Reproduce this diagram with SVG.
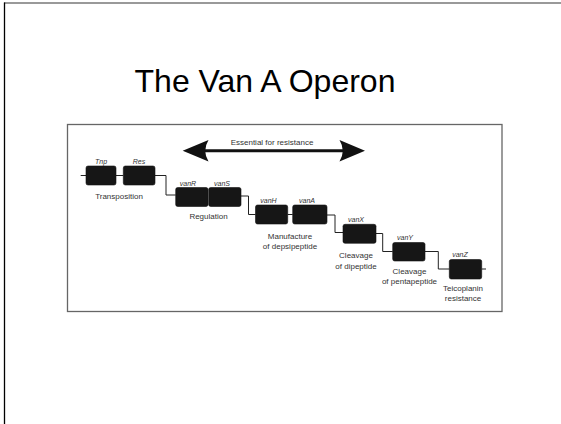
<svg xmlns="http://www.w3.org/2000/svg" width="561" height="424" viewBox="0 0 561 424">
<style>
.gene{fill:#161616;stroke:#111;stroke-width:0.6}
.gl{font-family:"Liberation Sans",Arial,sans-serif;font-size:7px;font-style:italic;fill:#333;text-anchor:middle}
.fl{font-family:"Liberation Sans",Arial,sans-serif;font-size:8px;fill:#333;text-anchor:middle}
.wire{fill:none;stroke:#222;stroke-width:1}
</style>
<rect x="0" y="0" width="561" height="424" fill="#fff"/>
<line x1="4" y1="3" x2="561" y2="3" stroke="#777" stroke-width="1.5"/>
<line x1="4.5" y1="2.5" x2="4.5" y2="424" stroke="#000" stroke-width="1.3"/>
<text x="265" y="92" font-family="'Liberation Sans',Arial,sans-serif" font-size="32" text-anchor="middle" fill="#000">The Van A Operon</text>
<rect x="67.5" y="124.5" width="434.5" height="187" fill="#fff" stroke="#666" stroke-width="1.3"/>
<g id="arrow">
<line x1="204" y1="150.7" x2="344" y2="150.7" stroke="#111" stroke-width="3"/>
<path d="M182.7,150.7 L208.5,140 Q202,150.7 208.5,161.5 Z" fill="#111"/>
<path d="M365,150.7 L339.5,140 Q346,150.7 339.5,161.5 Z" fill="#111"/>
<text class="fl" x="272" y="144.5">Essential for resistance</text>
</g>
<g id="connectors">
<path class="wire" d="M80.7,175.5 H86"/>
<path class="wire" d="M116,175.5 H123.3"/>
<path class="wire" d="M155,175.5 H166 V195 H175.7"/>
<path class="wire" d="M241,196 H248.5 V214.5 H255.5"/>
<path class="wire" d="M287.7,214.5 H292.7"/>
<path class="wire" d="M327,215 H335 V232.5 H343"/>
<path class="wire" d="M376,233.5 H382.7 V251.5 H392.7"/>
<path class="wire" d="M425,251.5 H438.3 V269 H449.3"/>
<path class="wire" d="M481.7,269 H486"/>
</g>
<g id="tnp"><rect class="gene" x="86" y="166" width="30" height="19" rx="2"/><text class="gl" x="101" y="163.5">Tnp</text></g>
<g id="res"><rect class="gene" x="123.3" y="166" width="31.7" height="19" rx="2"/><text class="gl" x="139" y="163.5">Res</text></g>
<text class="fl" x="119" y="199">Transposition</text>
<g id="vanR"><rect class="gene" x="175.7" y="187.5" width="32.3" height="19" rx="2"/><text class="gl" x="188" y="186">vanR</text></g>
<g id="vanS"><rect class="gene" x="208.7" y="187.5" width="32.3" height="19" rx="2"/><text class="gl" x="222" y="186">vanS</text></g>
<text class="fl" x="208.5" y="218.5">Regulation</text>
<g id="vanH"><rect class="gene" x="255.5" y="205" width="32.2" height="19" rx="2"/><text class="gl" x="268.5" y="202.5">vanH</text></g>
<g id="vanA"><rect class="gene" x="292.7" y="205" width="34.3" height="19" rx="2"/><text class="gl" x="307" y="202.5">vanA</text></g>
<text class="fl" x="290" y="238.5">Manufacture</text>
<text class="fl" x="290" y="248.5">of depsipeptide</text>
<g id="vanX"><rect class="gene" x="343" y="224.3" width="33" height="19" rx="2"/><text class="gl" x="356" y="221.5">vanX</text></g>
<text class="fl" x="356" y="258">Cleavage</text>
<text class="fl" x="356" y="268.5">of dipeptide</text>
<g id="vanY"><rect class="gene" x="392.7" y="242.5" width="32.3" height="18.5" rx="2"/><text class="gl" x="405" y="240">vanY</text></g>
<text class="fl" x="409.5" y="273.5">Cleavage</text>
<text class="fl" x="409.5" y="283.5">of pentapeptide</text>
<g id="vanZ"><rect class="gene" x="449.3" y="259.5" width="32.4" height="19.5" rx="2"/><text class="gl" x="460" y="256.5">vanZ</text></g>
<text class="fl" x="463" y="290.5">Teicoplanin</text>
<text class="fl" x="463" y="300.5">resistance</text>
</svg>
